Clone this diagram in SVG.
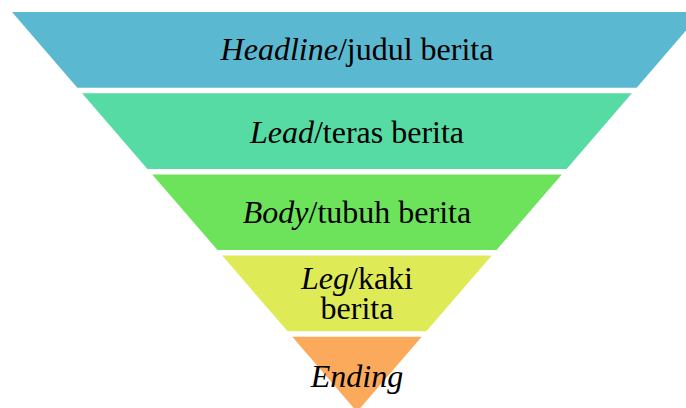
<svg xmlns="http://www.w3.org/2000/svg" width="686" height="408" viewBox="0 0 686 408">
<style>
  .t { font-family: "Liberation Serif", "Times New Roman", Times, serif; font-size: 32px; fill: #000; text-anchor: middle; }
  .i { font-style: italic; }
</style>
<rect width="686" height="408" fill="#fff"/>
<g id="headline">
  <polygon points="12,12 702,12 636.7,87.7 77.3,87.7" fill="#5bb8d1"/>
  <text class="t" font-family="Liberation Serif, serif" x="357" y="60"><tspan class="i">Headline</tspan>/judul berita</text>
</g>
<g id="lead">
  <polygon points="82.1,93.2 631.9,93.2 566.6,168.9 147.4,168.9" fill="#56dba5"/>
  <text class="t" font-family="Liberation Serif, serif" x="357" y="143"><tspan class="i">Lead</tspan>/teras berita</text>
</g>
<g id="body">
  <polygon points="152.2,174.4 561.8,174.4 496.5,250.1 217.5,250.1" fill="#6de35c"/>
  <text class="t" font-family="Liberation Serif, serif" x="357" y="222.5"><tspan class="i">Body</tspan>/tubuh berita</text>
</g>
<g id="leg">
  <polygon points="222.2,255.6 491.8,255.6 426.4,331.3 287.6,331.3" fill="#dfea57"/>
  <text class="t" font-family="Liberation Serif, serif" x="357" y="288.5"><tspan class="i">Leg</tspan>/kaki</text>
  <text class="t" font-family="Liberation Serif, serif" x="357" y="319">berita</text>
</g>
<g id="ending">
  <polygon points="292.3,336.8 421.7,336.8 357,411.8" fill="#fba95a"/>
  <text class="t i" font-family="Liberation Serif, serif" x="357" y="386.5">Ending</text>
</g>
<g id="connectors"></g>
</svg>
